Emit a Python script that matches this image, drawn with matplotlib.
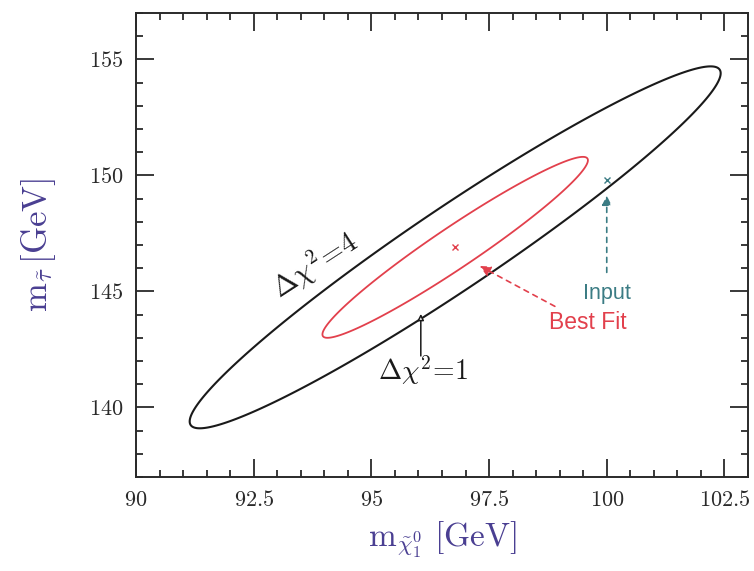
import numpy as np
import matplotlib
matplotlib.use("Agg")
import matplotlib.pyplot as plt
from matplotlib.ticker import MultipleLocator, FuncFormatter

plt.rcParams["mathtext.fontset"] = "cm"

# fit result: centre, widths and correlation of the (m_chi, m_stau) fit
fit_center = (96.78, 146.9)
fit_sigma = (2.82, 3.9)
fit_rho = 0.962
chi2_levels = [1, 4]
level_colors = ["#e2404c", "#1a1a1a"]

best_fit = (97.25, 146.15)
input_point = (100.0, 149.8)
input_arrow_tip = (100.0, 149.25)

xlim = (90, 103)
ylim = (137, 157)
xticks = [90, 92.5, 95, 97.5, 100, 102.5]
yticks = [140, 145, 150, 155]

label_col = "#4a3f92"
input_col = "#3b7c84"
fit_col = "#e2404c"

fig = plt.figure(figsize=(7.54, 5.71), dpi=100)
ax = fig.add_axes([0.1804, 0.1646, 0.8116, 0.8126])

# delta chi^2 surface for a correlated 2d gaussian
gx = np.linspace(xlim[0], xlim[1], 800)
gy = np.linspace(ylim[0], ylim[1], 800)
X, Y = np.meshgrid(gx, gy)
u = (X - fit_center[0]) / fit_sigma[0]
v = (Y - fit_center[1]) / fit_sigma[1]
chi2 = (u**2 - 2 * fit_rho * u * v + v**2) / (1 - fit_rho**2)
ax.contour(X, Y, chi2, levels=chi2_levels, colors=level_colors,
           linewidths=[1.3, 1.5])

# centre of the ellipses
ax.plot(*fit_center, marker="x", color=fit_col, ms=4, mew=1)

# input point
ax.plot(*input_point, marker="x", color=input_col, ms=4, mew=1)
ax.annotate("", xy=input_arrow_tip, xytext=(100.0, 145.7),
            arrowprops=dict(arrowstyle="-|>", linestyle=(0, (3, 3)),
                            color=input_col, lw=1.2, mutation_scale=14))
ax.text(100.0, 144.9, "Input", color=input_col, fontsize=15.5,
        family="Liberation Sans", ha="center", va="center")

# best fit point
ax.annotate("", xy=best_fit, xytext=(98.95, 144.3),
            arrowprops=dict(arrowstyle="-|>", linestyle=(0, (3, 3)),
                            color=fit_col, lw=1.2, mutation_scale=16))
ax.text(99.6, 143.65, "Best Fit", color=fit_col, fontsize=16.5,
        family="Liberation Sans", ha="center", va="center")

# contour labels
ax.annotate("", xy=(96.05, 144.15), xytext=(96.05, 142.1),
            arrowprops=dict(arrowstyle="-|>", color="#1a1a1a", lw=1.1,
                            mutation_scale=9, fc="white"))
ax.text(96.1, 141.6, r"$\Delta\chi^2\!=\!1$", fontsize=20, color="#1a1a1a",
        ha="center", va="center")
ax.text(93.8, 146.15, r"$\Delta\chi^2\!=\!4$", fontsize=21, color="#1a1a1a",
        ha="center", va="center", rotation=33)

ax.set_xlim(*xlim)
ax.set_ylim(*ylim)
ax.set_xticks(xticks)
ax.set_yticks(yticks)
ax.xaxis.set_minor_locator(MultipleLocator(0.5))
ax.yaxis.set_minor_locator(MultipleLocator(1))
fmt = FuncFormatter(lambda val, pos: r"$\mathrm{%g}$" % val)
ax.xaxis.set_major_formatter(fmt)
ax.yaxis.set_major_formatter(fmt)
ax.tick_params(which="both", direction="in", top=True, right=True,
               labelsize=16, colors="#2a2a2a", width=1.3)
ax.tick_params(which="major", length=13, pad=9)
ax.tick_params(which="minor", length=5)
for sp in ax.spines.values():
    sp.set_linewidth(1.4)
    sp.set_color("#2a2a2a")

ax.set_xlabel(r"$\mathrm{m}_{\tilde{\chi}^0_1}\ [\mathrm{GeV}]$",
              fontsize=24, color=label_col, labelpad=7)
ax.set_ylabel(r"$\mathrm{m}_{\tilde{\tau}}\,[\mathrm{GeV}]$",
              fontsize=25, color=label_col, labelpad=22)

fig.savefig("out.png", dpi=100)
